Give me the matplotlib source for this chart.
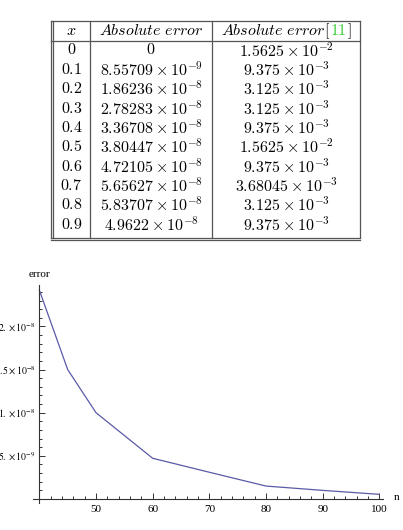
import numpy as np
import matplotlib.pyplot as plt
from matplotlib.ticker import MultipleLocator, FixedLocator, FuncFormatter

# table data
x_vals = ['0', '0.1', '0.2', '0.3', '0.4', '0.5', '0.6', '0.7', '0.8', '0.9']
err_mant = [0, 8.55709, 1.86236, 2.78283, 3.36708, 3.80447, 4.72105, 5.65627, 5.83707, 4.9622]
err_exp = [None, -9, -8, -8, -8, -8, -8, -8, -8, -8]
ref_mant = [1.5625, 9.375, 3.125, 3.125, 9.375, 1.5625, 9.375, 3.68045, 3.125, 9.375]
ref_exp = [-2, -3, -3, -3, -3, -2, -3, -3, -3, -3]

# plot data
n = [40, 45, 50, 60, 70, 80, 90, 100]
err = [2.42e-8, 1.5e-8, 1.0e-8, 4.72e-9, 3.1e-9, 1.5e-9, 1.0e-9, 5.4e-10]

W, H = 403, 530
fig = plt.figure(figsize=(W / 100, H / 100), dpi=100)

def sci(m, e):
    if e is None:
        return r'$%g$' % m
    return r'$%g \times 10^{%d}$' % (m, e)

# ---- table (pixel coords) ----
tab = fig.add_axes([0, 0, 1, 1])
tab.set_xlim(0, W)
tab.set_ylim(H, 0)
tab.axis('off')

fs = 11.5
col_x = [71.5, 151, 286]
row_h = 19.35
head_y = 30.7
rows_y = [50 + row_h * i for i in range(len(x_vals))]

kw = dict(ha='center', va='center', fontsize=fs, math_fontfamily='cm')
tab.text(col_x[0], head_y, r'$x$', **kw)
tab.text(col_x[1], head_y, r'$Absolute\ error$', **kw)
for i in range(len(x_vals)):
    tab.text(col_x[0], rows_y[i], r'$%s$' % x_vals[i], **kw)
    tab.text(col_x[1], rows_y[i], sci(err_mant[i], err_exp[i]), **kw)
    tab.text(col_x[2], rows_y[i], sci(ref_mant[i], ref_exp[i]), **kw)

# third header: black text + green citation number, laid out on one baseline
base_y = head_y + 4.2
pieces = [(r'$Absolute\ error$', 'black'), (r'$\mathrm{[}$', 'black'),
          (r'$\mathrm{11}$', '#33cc33'), (r'$\mathrm{]}$', 'black')]
objs = [tab.text(0, base_y, s, ha='left', va='baseline', fontsize=fs,
                 math_fontfamily='cm', color=c) for s, c in pieces]
fig.canvas.draw()
r = fig.canvas.get_renderer()
inv = tab.transData.inverted()
widths = []
for t in objs:
    bb = t.get_window_extent(r)
    widths.append(inv.transform((bb.x1, 0))[0] - inv.transform((bb.x0, 0))[0])
widths[0] -= 1.5  # italic trailing space
xpos = col_x[2] - sum(widths) / 2
for t, w in zip(objs, widths):
    t.set_x(xpos)
    xpos += w

lc = '#555555'
lw = 0.9
top, hline, bot = 20.7, 40.5, 237.5
left1, left2, sep1, sep2, right = 50.7, 52.9, 90, 212.3, 359.5
for y in [top, hline]:
    tab.plot([left1, right], [y, y], color=lc, lw=lw)
for y in [bot, bot + 2.4]:
    tab.plot([left1, right], [y, y], color=lc, lw=lw)
for x in [left1, left2, sep1, sep2, right]:
    tab.plot([x, x], [top, bot], color=lc, lw=lw)

# ---- plot ----
px_per_n = 283.3 / 50
px_per_y = 86.3 / 1e-8
ax_l, ax_r, ax_t, ax_b = 33, 383, 285, 503
ax = fig.add_axes([ax_l / W, (H - ax_b) / H, (ax_r - ax_l) / W, (ax_b - ax_t) / H])
ax.set_xlim(50 - (96 - ax_l) / px_per_n, 50 + (ax_r - 96) / px_per_n)
ax.set_ylim(-(ax_b - 499) / px_per_y, (499 - ax_t) / px_per_y)
ax.patch.set_alpha(0)

ax.plot(n, err, color='#5a5aa8', lw=0.9)

for s in ['top', 'right']:
    ax.spines[s].set_visible(False)
ax.spines['left'].set_position(('data', 40))
ax.spines['bottom'].set_position(('data', 0))
for s in ['left', 'bottom']:
    ax.spines[s].set_linewidth(0.8)
    ax.spines[s].set_color('#333333')

ax.xaxis.set_major_locator(FixedLocator([50, 60, 70, 80, 90, 100]))
ax.xaxis.set_minor_locator(MultipleLocator(2))
ax.yaxis.set_major_locator(FixedLocator([5e-9, 1e-8, 1.5e-8, 2e-8]))
ax.yaxis.set_minor_locator(MultipleLocator(1e-9))

def yfmt(v, pos):
    e = int(np.floor(np.log10(v)))
    m = v / 10 ** e
    ms = ('%g' % round(m, 3))
    if '.' not in ms:
        ms += '.'
    return r'$%s\times10^{%d}$' % (ms, e)

ax.yaxis.set_major_formatter(FuncFormatter(yfmt))
ax.tick_params(which='both', direction='in', color='#333333', width=0.7)
ax.tick_params(which='major', length=4)
ax.tick_params(which='minor', length=2)
ax.tick_params(axis='x', which='major', pad=4, labelsize=8)
ax.tick_params(axis='y', which='major', pad=2.5, labelsize=7)
for lab in ax.get_xticklabels():
    lab.set_fontfamily('Liberation Serif')
for lab in ax.get_yticklabels():
    lab.set_math_fontfamily('stix')

ax.annotate('error', xy=(40, ax.get_ylim()[1]), xycoords='data', xytext=(0, 4),
            textcoords='offset points', ha='center', va='bottom',
            fontsize=8, family='Liberation Serif')
ax.annotate('n', xy=(ax.get_xlim()[1], 0), xycoords='data', xytext=(8, 1),
            textcoords='offset points', ha='left', va='center',
            fontsize=8, family='Liberation Serif')

fig.savefig('out.png', dpi=100)
